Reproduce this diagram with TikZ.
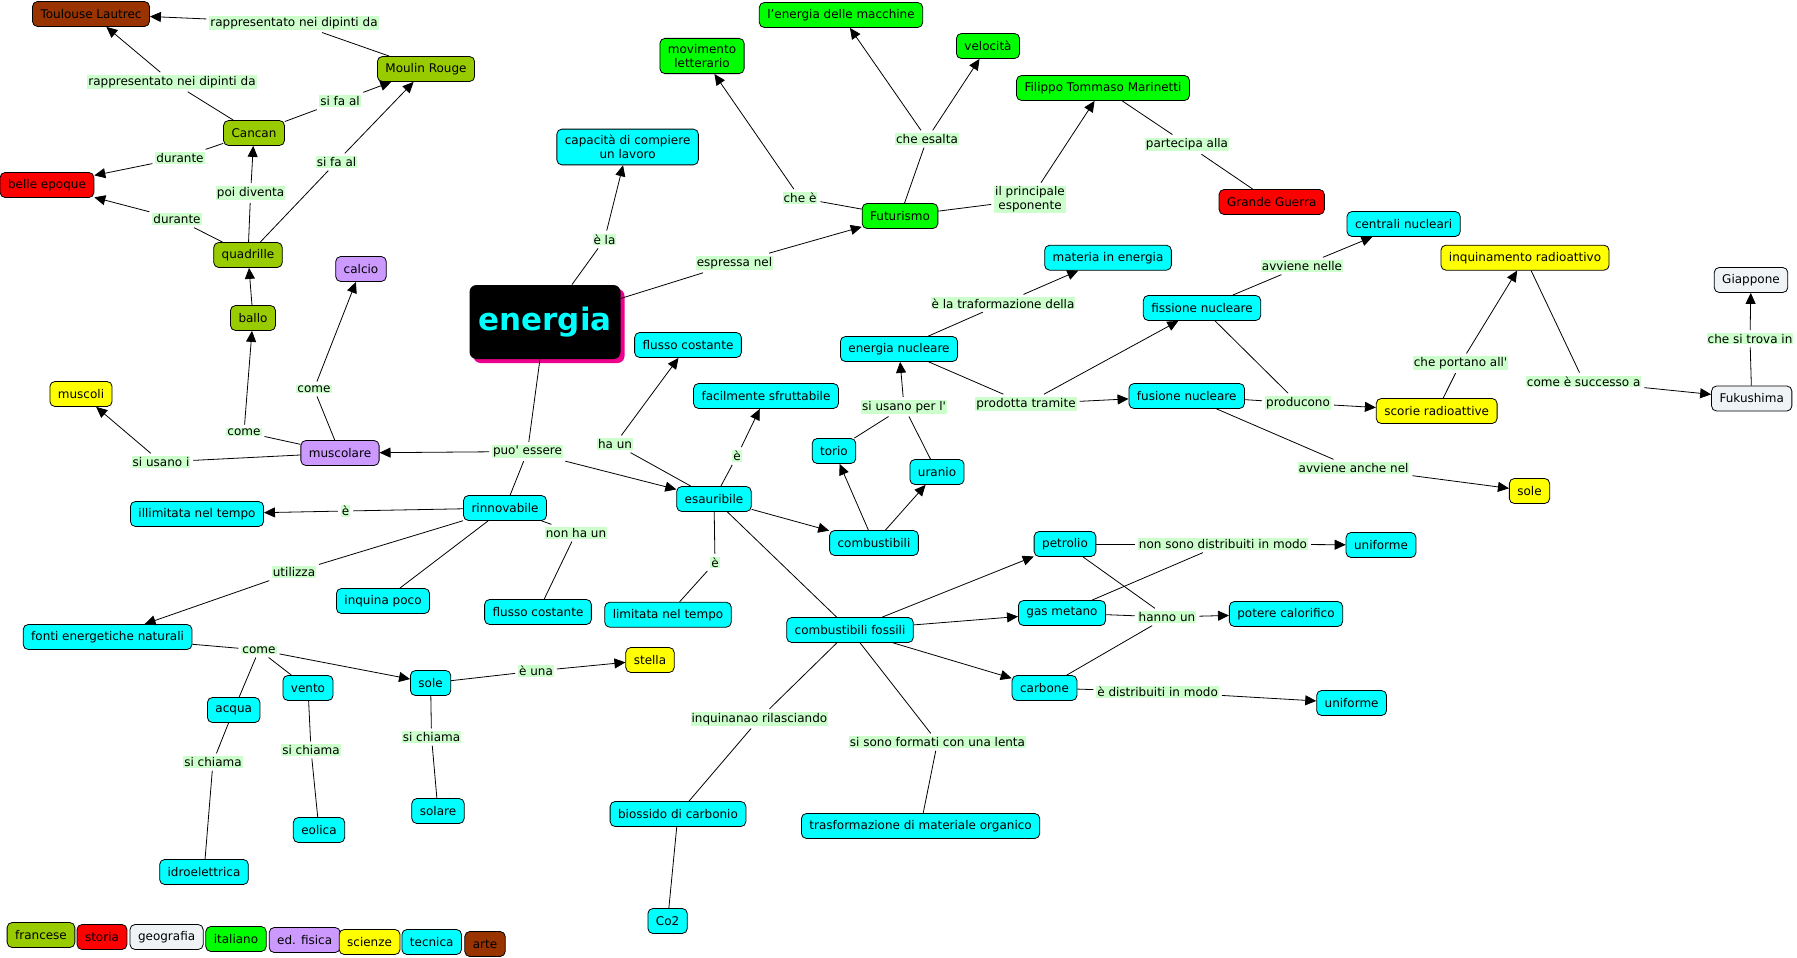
\documentclass[tikz,border=0pt]{standalone}
\usepackage{fontspec}
\setmainfont{DejaVu Sans}
\usetikzlibrary{arrows.meta, shadows}

\definecolor{francese}{RGB}{153,204,0}
\definecolor{storia}{RGB}{255,0,0}
\definecolor{geografia}{RGB}{240,243,246}
\definecolor{italiano}{RGB}{0,255,0}
\definecolor{edfisica}{RGB}{204,153,255}
\definecolor{scienze}{RGB}{255,255,0}
\definecolor{tecnica}{RGB}{0,255,255}
\definecolor{arte}{RGB}{153,51,0}
\definecolor{linkbg}{RGB}{204,255,204}

\begin{document}
\begin{tikzpicture}[x=1pt, y=-1pt, line width=0.8pt, font=\fontsize{12}{14}\selectfont,
  concept/.style={draw, rectangle, rounded corners=5pt, minimum height=25pt, inner xsep=8pt, inner ysep=3pt, align=center},
  link/.style={fill=linkbg, inner xsep=1pt, inner ysep=1pt, outer sep=3pt, align=center},
  arr/.style={-{Triangle[length=11pt, width=10pt]}}]
  \useasboundingbox[fill=white] (0,0) rectangle (1797,958);

  \node (energia) [fill=black, text=tecnica, rounded corners=7pt, minimum width=151pt, minimum height=74pt, font=\fontsize{31}{36}\bfseries\selectfont, general shadow={fill=magenta, shadow xshift=4pt, shadow yshift=-4pt}] at (545,322) {energia};

  \node (toulouse) [concept, fill=arte] at (91,14) {Toulouse Lautrec};
  \node (moulin) [concept, fill=francese] at (426,69) {Moulin Rouge};
  \node (cancan) [concept, fill=francese] at (254,133) {Cancan};
  \node (belle) [concept, fill=storia] at (47,185) {belle epoque};
  \node (quadrille) [concept, fill=francese] at (248,255) {quadrille};
  \node (ballo) [concept, fill=francese] at (253,318) {ballo};
  \node (calcio) [concept, fill=edfisica] at (361,269) {calcio};
  \node (muscoli) [concept, fill=scienze] at (81,394) {muscoli};
  \node (muscolare) [concept, fill=edfisica] at (340,453) {muscolare};
  \node (capacita) [concept, fill=tecnica, inner ysep=6pt] at (627.6,147) {capacità di compiere\\un lavoro};
  \node (movimento) [concept, fill=italiano, inner ysep=6pt] at (702,56) {movimento\\letterario};
  \node (macchine) [concept, fill=italiano] at (841,15) {l'energia delle macchine};
  \node (velocita) [concept, fill=italiano] at (988,46) {velocità};
  \node (marinetti) [concept, fill=italiano] at (1103,88) {Filippo Tommaso Marinetti};
  \node (futurismo) [concept, fill=italiano] at (900,216) {Futurismo};
  \node (guerra) [concept, fill=storia] at (1271.7,202) {Grande Guerra};
  \node (materia) [concept, fill=tecnica] at (1108,257.7) {materia in energia};
  \node (centrali) [concept, fill=tecnica] at (1403.6,224) {centrali nucleari};
  \node (inquinamento) [concept, fill=scienze] at (1525,257.7) {inquinamento radioattivo};
  \node (giappone) [concept, fill=geografia] at (1751,280) {Giappone};
  \node (fissione) [concept, fill=tecnica] at (1202,308) {fissione nucleare};
  \node (nucleare) [concept, fill=tecnica] at (899,349) {energia nucleare};
  \node (flussoa) [concept, fill=tecnica] at (688,345) {flusso costante};
  \node (facilmente) [concept, fill=tecnica] at (766,396) {facilmente sfruttabile};
  \node (fusione) [concept, fill=tecnica] at (1186.7,396) {fusione nucleare};
  \node (scorie) [concept, fill=scienze] at (1436.7,411) {scorie radioattive};
  \node (fukushima) [concept, fill=geografia] at (1751.7,398.5) {Fukushima};
  \node (torio) [concept, fill=tecnica] at (834,451) {torio};
  \node (uranio) [concept, fill=tecnica] at (937,472) {uranio};
  \node (esauribile) [concept, fill=tecnica] at (714,499) {esauribile};
  \node (solestella) [concept, fill=scienze] at (1529.5,491) {sole};
  \node (rinnovabile) [concept, fill=tecnica] at (505,508) {rinnovabile};
  \node (illimitata) [concept, fill=tecnica] at (197,514) {illimitata nel tempo};
  \node (combustibili) [concept, fill=tecnica] at (874,543) {combustibili};
  \node (petrolio) [concept, fill=tecnica] at (1065,544) {petrolio};
  \node (uniformea) [concept, fill=tecnica] at (1381,545) {uniforme};
  \node (inquina) [concept, fill=tecnica] at (383,601) {inquina poco};
  \node (flussob) [concept, fill=tecnica] at (538,612) {flusso costante};
  \node (limitata) [concept, fill=tecnica] at (668,614.7) {limitata nel tempo};
  \node (gas) [concept, fill=tecnica] at (1062,613) {gas metano};
  \node (potere) [concept, fill=tecnica] at (1286,614) {potere calorifico};
  \node (fossili) [concept, fill=tecnica] at (850,630) {combustibili fossili};
  \node (fonti) [concept, fill=tecnica] at (107.6,637) {fonti energetiche naturali};
  \node (stella) [concept, fill=scienze] at (650,660) {stella};
  \node (sole) [concept, fill=tecnica] at (430.6,683) {sole};
  \node (vento) [concept, fill=tecnica] at (308,688) {vento};
  \node (carbone) [concept, fill=tecnica] at (1044.5,688) {carbone};
  \node (uniformeb) [concept, fill=tecnica] at (1351.6,703) {uniforme};
  \node (acqua) [concept, fill=tecnica] at (233.7,710) {acqua};
  \node (solare) [concept, fill=tecnica] at (438,811) {solare};
  \node (biossido) [concept, fill=tecnica] at (678,814) {biossido di carbonio};
  \node (trasformazione) [concept, fill=tecnica] at (920.6,826) {trasformazione di materiale organico};
  \node (eolica) [concept, fill=tecnica] at (319,830) {eolica};
  \node (idro) [concept, fill=tecnica] at (204,872) {idroelettrica};
  \node (co2) [concept, fill=tecnica] at (667.6,921) {Co2};

  \node (kfrancese) [concept, fill=francese] at (41,935) {francese};
  \node (kstoria) [concept, fill=storia] at (102,937) {storia};
  \node (kgeografia) [concept, fill=geografia] at (166.6,937) {geografia};
  \node (kitaliano) [concept, fill=italiano] at (236,939) {italiano};
  \node (kfisica) [concept, fill=edfisica] at (304.7,940) {ed. fisica};
  \node (kscienze) [concept, fill=scienze] at (369.6,942) {scienze};
  \node (ktecnica) [concept, fill=tecnica] at (431.7,942) {tecnica};
  \node (karte) [concept, fill=arte] at (485,944) {arte};

  \node (rappa) [link] at (294,22.7) {rappresentato nei dipinti da};
  \node (rappb) [link] at (172,82) {rappresentato nei dipinti da};
  \node (sifaa) [link] at (340,101) {si fa al};
  \node (duranta) [link] at (180,158) {durante};
  \node (sifab) [link] at (336.5,162) {si fa al};
  \node (diventa) [link] at (250.6,193) {poi diventa};
  \node (durantb) [link] at (177,219) {durante};
  \node (comecalcio) [link] at (314,389) {come};
  \node (comeballo) [link] at (244,432) {come};
  \node (usanoi) [link] at (161,462) {si usano i};
  \node (puo) [link] at (527.5,451.5) {puo\textquotesingle{} essere};
  \node (ea) [link] at (345.6,511) {è};
  \node (nonha) [link] at (576,533) {non ha un};
  \node (utilizza) [link] at (294,572) {utilizza};
  \node (comefonti) [link] at (259,650) {come};
  \node (euna) [link] at (536,671) {è una};
  \node (chiamaa) [link] at (213,762) {si chiama};
  \node (chiamav) [link] at (311,750) {si chiama};
  \node (chiamas) [link] at (431.5,737) {si chiama};
  \node (rilasciando) [link] at (759.4,718.7) {inquinanao rilasciando};
  \node (formati) [link] at (937.5,742) {si sono formati con una lenta};
  \node (distribuiti) [link] at (1157.6,691.7) {è distribuiti in modo};
  \node (nonsono) [link] at (1223,544) {non sono distribuiti in modo};
  \node (hanno) [link] at (1167,617) {hanno un};
  \node (usanol) [link] at (904,406.7) {si usano per l\textquotesingle};
  \node (prodotta) [link] at (1026,404) {prodotta tramite};
  \node (haun) [link] at (615,444) {ha un};
  \node (eb) [link] at (737,456) {è};
  \node (ec) [link] at (715,562.5) {è};
  \node (esalta) [link] at (927,139) {che esalta};
  \node (chee) [link] at (800,198) {che è};
  \node (principale) [link] at (1030,199.5) {il principale\\esponente};
  \node (espressa) [link] at (734.5,263) {espressa nel};
  \node (ela) [link] at (604.5,239.5) {è la};
  \node (traformazione) [link] at (1003,303.3) {è la traformazione della};
  \node (partecipa) [link] at (1187,144.4) {partecipa alla};
  \node (nelle) [link] at (1302,266) {avviene nelle};
  \node (producono) [link] at (1298,403) {producono};
  \node (portano) [link] at (1460.5,363.3) {che portano all\textquotesingle};
  \node (successo) [link] at (1583.7,381.5) {come è successo a};
  \node (trova) [link] at (1750,338.8) {che si trova in};
  \node (anche) [link] at (1353.6,468) {avviene anche nel};

  \draw (moulin) -- (rappa);
  \draw [arr] (rappa) -- (toulouse);
  \draw (cancan) -- (rappb);
  \draw [arr] (rappb) -- (toulouse);
  \draw (cancan) -- (sifaa);
  \draw [arr] (sifaa) -- (moulin);
  \draw (cancan) -- (duranta);
  \draw [arr] (duranta) -- (belle);
  \draw (quadrille) -- (diventa);
  \draw [arr] (diventa) -- (cancan);
  \draw (quadrille) -- (sifab);
  \draw [arr] (sifab) -- (moulin);
  \draw (quadrille) -- (durantb);
  \draw [arr] (durantb) -- (belle);
  \draw [arr] (ballo) -- (quadrille);
  \draw (muscolare) -- (comeballo);
  \draw [arr] (comeballo) -- (ballo);
  \draw (muscolare) -- (comecalcio);
  \draw [arr] (comecalcio) -- (calcio);
  \draw (muscolare) -- (usanoi);
  \draw [arr] (usanoi) -- (muscoli);

  \draw (energia) -- (puo);
  \draw [arr] (puo) -- (muscolare);
  \draw (puo) -- (rinnovabile);
  \draw [arr] (puo) -- (esauribile);
  \draw (energia) -- (ela);
  \draw [arr] (ela) -- (capacita);
  \draw (energia) -- (espressa);
  \draw [arr] (espressa) -- (futurismo);
  \draw (futurismo) -- (chee);
  \draw [arr] (chee) -- (movimento);
  \draw (futurismo) -- (esalta);
  \draw [arr] (esalta) -- (macchine);
  \draw [arr] (esalta) -- (velocita);
  \draw (futurismo) -- (principale);
  \draw [arr] (principale) -- (marinetti);
  \draw (marinetti) -- (partecipa);
  \draw (partecipa) -- (guerra);

  \draw (rinnovabile) -- (ea);
  \draw [arr] (ea) -- (illimitata);
  \draw (rinnovabile) -- (utilizza);
  \draw [arr] (utilizza) -- (fonti);
  \draw (rinnovabile) -- (inquina);
  \draw (rinnovabile) -- (nonha);
  \draw (nonha) -- (flussob);
  \draw (fonti) -- (comefonti);
  \draw [arr] (comefonti) -- (sole);
  \draw (comefonti) -- (acqua);
  \draw (comefonti) -- (vento);
  \draw (sole) -- (euna);
  \draw [arr] (euna) -- (stella);
  \draw (acqua) -- (chiamaa);
  \draw (chiamaa) -- (idro);
  \draw (vento) -- (chiamav);
  \draw (chiamav) -- (eolica);
  \draw (sole) -- (chiamas);
  \draw (chiamas) -- (solare);

  \draw (esauribile) -- (haun);
  \draw [arr] (haun) -- (flussoa);
  \draw (esauribile) -- (eb);
  \draw [arr] (eb) -- (facilmente);
  \draw (esauribile) -- (ec);
  \draw (ec) -- (limitata);
  \draw [arr] (esauribile) -- (combustibili);
  \draw (esauribile) -- (fossili);
  \draw [arr] (combustibili) -- (torio);
  \draw [arr] (combustibili) -- (uranio);
  \draw (torio) -- (usanol);
  \draw (uranio) -- (usanol);
  \draw [arr] (usanol) -- (nucleare);
  \draw (nucleare) -- (traformazione);
  \draw [arr] (traformazione) -- (materia);
  \draw (nucleare) -- (prodotta);
  \draw [arr] (prodotta) -- (fissione);
  \draw [arr] (prodotta) -- (fusione);
  \draw (fissione) -- (nelle);
  \draw [arr] (nelle) -- (centrali);
  \draw (fissione) -- (producono);
  \draw (fusione) -- (producono);
  \draw [arr] (producono) -- (scorie);
  \draw (fusione) -- (anche);
  \draw [arr] (anche) -- (solestella);
  \draw (scorie) -- (portano);
  \draw [arr] (portano) -- (inquinamento);
  \draw (inquinamento) -- (successo);
  \draw [arr] (successo) -- (fukushima);
  \draw (fukushima) -- (trova);
  \draw [arr] (trova) -- (giappone);

  \draw [arr] (fossili) -- (petrolio);
  \draw [arr] (fossili) -- (gas);
  \draw [arr] (fossili) -- (carbone);
  \draw (fossili) -- (rilasciando);
  \draw (rilasciando) -- (biossido);
  \draw (fossili) -- (formati);
  \draw (formati) -- (trasformazione);
  \draw (biossido) -- (co2);
  \draw (petrolio) -- (nonsono);
  \draw (gas) -- (nonsono);
  \draw [arr] (nonsono) -- (uniformea);
  \draw (gas) -- (hanno);
  \draw (petrolio) -- (hanno);
  \draw (carbone) -- (hanno);
  \draw [arr] (hanno) -- (potere);
  \draw (carbone) -- (distribuiti);
  \draw [arr] (distribuiti) -- (uniformeb);
\end{tikzpicture}
\end{document}
